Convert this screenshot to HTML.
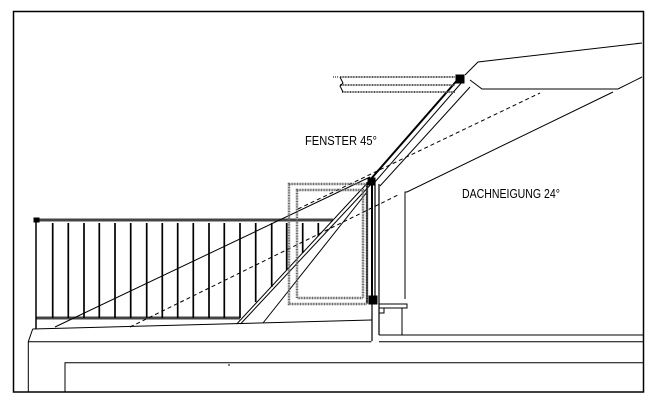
<!DOCTYPE html>
<html><head><style>html,body{margin:0;padding:0;background:#fff}svg{display:block}</style></head>
<body>
<svg width="657" height="419" viewBox="0 0 657 419" xmlns="http://www.w3.org/2000/svg">
<rect x="0" y="0" width="657" height="419" fill="#fff"/>
<g fill="none" stroke="#000" stroke-width="1">
<rect x="13.5" y="11.5" width="630" height="380.5" stroke-width="1.5"/>
<polyline points="32.7,329 371.5,320"/>
<polyline points="32.7,329 28.3,341.7 28.3,392"/>
<line x1="28.3" y1="341.7" x2="371.5" y2="341.7"/>
<line x1="379" y1="341.7" x2="643" y2="341.7"/>
<line x1="379" y1="335" x2="643" y2="335"/>
<polyline points="65,392 65,362.7 643,362.7"/>
<line x1="229" y1="364" x2="229" y2="366"/>
<polyline points="642,43 478,62 465,75"/>
<polyline points="470,80 482,89 618,89 642,77"/>
<polyline points="613,92 407,192 405,192 405,299"/>
<line x1="36" y1="220" x2="333" y2="220" stroke-width="3" stroke="#444"/>
<line x1="36" y1="318" x2="240" y2="318" stroke-width="3" stroke="#444"/>
<line x1="36" y1="219" x2="36" y2="329" stroke-width="1.5"/>
<rect x="34" y="218" width="5" height="4" fill="#000"/>
<g stroke-width="1.7">
<line x1="52.7" y1="223" x2="52.7" y2="318"/><line x1="68.3" y1="223" x2="68.3" y2="318"/>
<line x1="84" y1="223" x2="84" y2="318"/><line x1="99.3" y1="223" x2="99.3" y2="318"/>
<line x1="115" y1="223" x2="115" y2="318"/><line x1="130.7" y1="223" x2="130.7" y2="318"/>
<line x1="146.7" y1="223" x2="146.7" y2="318"/><line x1="162.3" y1="223" x2="162.3" y2="318"/>
<line x1="177.7" y1="223" x2="177.7" y2="318"/><line x1="193.3" y1="223" x2="193.3" y2="318"/>
<line x1="209" y1="223" x2="209" y2="318"/><line x1="224.3" y1="223" x2="224.3" y2="318"/>
<line x1="240" y1="223" x2="240" y2="318"/><line x1="255.7" y1="223" x2="255.7" y2="302"/>
<line x1="271.7" y1="223" x2="271.7" y2="287"/><line x1="286.7" y1="223" x2="286.7" y2="270"/>
<line x1="302.7" y1="223" x2="302.7" y2="253"/><line x1="318.3" y1="223" x2="318.3" y2="236"/>
</g>
<line x1="236.7" y1="324" x2="372" y2="178"/>
<line x1="240.5" y1="324" x2="374" y2="181"/>
<line x1="263" y1="323" x2="367" y2="192"/>
<line x1="55" y1="327" x2="370" y2="177"/>
<g stroke-dasharray="4,3">
<line x1="130" y1="327" x2="398" y2="195"/>
<line x1="298" y1="209" x2="540" y2="93"/>
</g>
<g stroke="#666" stroke-width="2.5" stroke-dasharray="1,0.6">
<rect x="289" y="184" width="78" height="120"/>
<rect x="297" y="190" width="66" height="108"/>
</g>
<g stroke-width="1.2">
<line x1="367" y1="182" x2="367" y2="303"/>
<line x1="372" y1="180" x2="372" y2="303" stroke-width="2"/>
<line x1="375" y1="182" x2="375" y2="303"/>
<line x1="379" y1="184" x2="379" y2="303"/>
<line x1="372" y1="303" x2="372" y2="341"/>
<line x1="379" y1="303" x2="379" y2="335"/>
</g>
<rect x="369" y="296" width="8" height="8" fill="#000"/>
<rect x="368" y="178" width="7" height="7" fill="#000"/>
<rect x="379" y="304" width="28" height="4"/>
<line x1="402" y1="308" x2="402" y2="335"/>
<rect x="379" y="308" width="5" height="5"/>
<line x1="370" y1="180" x2="460" y2="77" stroke-width="2"/>
<line x1="374" y1="183" x2="463" y2="81"/>
<line x1="380" y1="186" x2="470" y2="87"/>
<rect x="456" y="75" width="8" height="8" fill="#000"/>
<g stroke="#555" stroke-width="2" stroke-dasharray="1,0.6">
<line x1="340" y1="77" x2="455" y2="77"/>
<line x1="340" y1="85" x2="455" y2="85"/>
<line x1="342" y1="92" x2="455" y2="92"/>
</g>
<polyline points="340,77 343,83 340,86 343,92"/>
<line x1="333" y1="77" x2="338" y2="77" stroke-dasharray="1,1"/>
</g>
<g font-family="'Liberation Sans', sans-serif" font-size="13" fill="#000">
<text x="305" y="145" textLength="72" lengthAdjust="spacingAndGlyphs">FENSTER 45°</text>
<text x="462" y="198" textLength="98" lengthAdjust="spacingAndGlyphs">DACHNEIGUNG 24°</text>
</g>
</svg>
</body></html>
